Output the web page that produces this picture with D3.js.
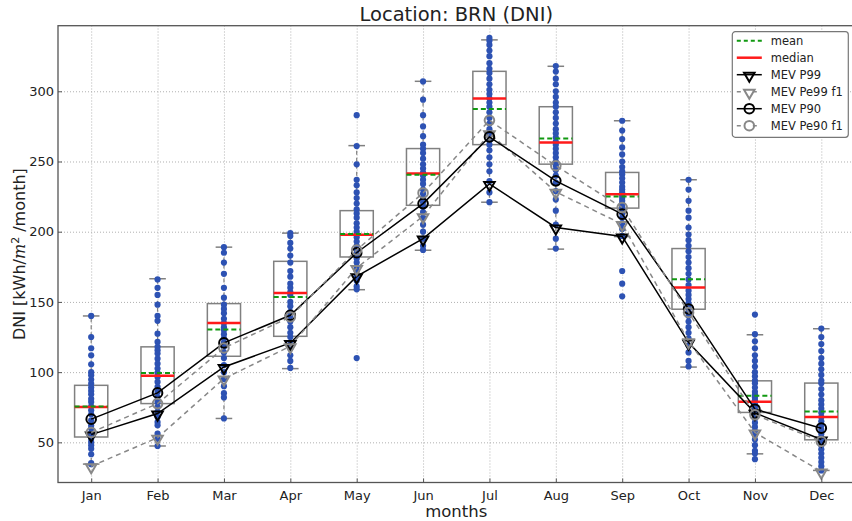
<!DOCTYPE html>
<html lang="en">
<head>
  <meta charset="UTF-8">
  <title>Location: BRN (DNI)</title>
  <script src="https://d3js.org/d3.v7.min.js"></script>
  <style>
    body { margin: 0; background: #fff; }
    svg text { font-family: "DejaVu Sans", sans-serif; fill: #222; }
    .grid line { stroke: #b0b0b0; stroke-dasharray: 1,2; }
    .grid path { display: none; }
  </style>
</head>
<body>
<div id="chart"></div>
<script>
  // months and box statistics
  var months = ["Jan", "Feb", "Mar", "Apr", "May", "Jun", "Jul", "Aug", "Sep", "Oct", "Nov", "Dec"];
  var whiskerLow  = [34.5, 47.4, 67, 102.5, 158.7, 186.8, 221, 187.6, 196.5, 103.6, 41.8, 30];
  var q1          = [53.8, 77.6, 111.3, 125.5, 182, 218.8, 262, 248.1, 216.8, 144.8, 71.3, 51.8];
  var medians     = [75.2, 97.5, 135, 156.4, 197.9, 241.4, 294.8, 263.5, 226.7, 160.3, 78.9, 68];
  var means       = [75.6, 99.4, 130.3, 153.5, 198.4, 240.6, 287.4, 266.4, 225.1, 166.2, 83.1, 72];
  var q3          = [90.6, 118, 148.8, 178.9, 215, 259.2, 314.2, 289, 242.2, 188, 93.8, 92.2];
  var whiskerHigh = [140, 166.5, 189, 199, 261.3, 307.1, 336.6, 317.8, 279, 237, 126.6, 130.9];

  // yearly values (blue dots), one list per month
  var yearlyValues = [
    [140, 125, 117, 112, 105.6, 100, 97.8, 94.7, 91.8, 89, 86.6, 84.2, 81, 78.8, 75.7, 72.8, 70, 65.7, 62, 59.8, 56.7, 55, 52.7, 50.3, 48, 45.5, 41.5, 35.3, 34.4],
    [166, 160, 155, 148, 140, 136.5, 127.4, 121.5, 118, 115.6, 113.2, 109.6, 106, 102.5, 99.4, 96.6, 93, 89.5, 85.9, 82.3, 78.8, 75.2, 71.7, 68.1, 64.5, 62.2, 56.2, 52.7, 47.4],
    [189, 185, 178, 170, 160, 153, 148, 145, 142, 138, 135, 132, 130, 127, 124, 121, 118, 114, 110, 105, 100, 95, 90, 85, 82, 67],
    [199, 197, 192, 188, 183, 178, 172, 168, 163, 160, 157, 155, 150, 147, 143, 140, 136, 132, 128, 125, 120, 117, 112, 108, 103],
    [283, 261, 248, 237, 233, 228, 224, 220, 216, 213, 210, 206, 203, 200, 198, 196, 193, 190, 187, 184, 181, 178, 175, 172, 168, 165, 161, 159, 110],
    [307, 294, 283, 275, 268, 262, 259, 256, 252, 248, 245, 242, 240, 237, 234, 230, 227, 224, 221, 218, 214, 210, 205, 200, 195, 190, 187],
    [338, 336, 333, 329, 325, 320, 316, 313, 309, 305, 301, 298, 295, 292, 289, 285, 281, 277, 273, 269, 265, 262, 258, 253, 248, 243, 236, 228, 221],
    [318, 314, 309, 305, 300, 296, 292, 289, 285, 281, 277, 273, 270, 267, 264, 262, 259, 256, 253, 250, 247, 244, 240, 235, 229, 223, 215, 205, 195, 188],
    [279, 272, 266, 260, 255, 250, 246, 243, 241, 238, 235, 232, 230, 228, 226, 224, 222, 220, 218, 216, 213, 210, 206, 202, 197, 172, 163, 154],
    [237, 230, 222, 215, 210, 203, 198, 194, 190, 186, 182, 178, 174, 170, 166, 162, 158, 155, 152, 149, 146, 143, 140, 136, 132, 128, 124, 119, 114, 108, 104],
    [141, 127, 122, 117, 112, 108, 104, 100, 97, 94, 92, 89, 86, 84, 82, 80, 78, 76, 74, 72, 70, 67, 64, 61, 58, 55, 52, 48, 44, 42, 38],
    [131, 125, 120, 115, 110, 106, 102, 98, 94, 92, 88, 84, 80, 77, 74, 71, 68, 65, 62, 59, 56, 53, 51, 48, 45, 42, 39, 36, 33, 30]
  ];

  // MEV series
  var mevP99  = [55.5, 70.5, 103.7, 120.8, 168.2, 195.1, 234, 203, 196.6, 121, 71, 52];
  var mevPe99 = [33, 53.3, 95.4, 118.4, 174.2, 211, 270, 228.4, 205.4, 122, 57, 29.2];
  var mevP90  = [66.5, 85.2, 120.8, 140.5, 185, 220, 267.5, 236.2, 212.5, 145, 73.6, 60.1];
  var mevPe90 = [57, 77.6, 117.2, 139.3, 187, 227.6, 279.3, 247, 217.2, 142.5, 69.6, 50.6];

  var yTicks = [50, 100, 150, 200, 250, 300];

  var W = 852, H = 521;
  var margin = { top: 25.7, left: 58, right: -2.5, bottom: 38.5 };
  var width = W - margin.left - margin.right,
      height = H - margin.top - margin.bottom;

  var svg = d3.select("#chart").append("svg")
    .attr("width", W)
    .attr("height", H);

  var g = svg.append("g")
    .attr("transform", "translate(" + margin.left + "," + margin.top + ")");

  var x = d3.scaleLinear().domain([0.5, 12.5]).range([0, width]);
  var y = d3.scaleLinear().domain([21.4, 346.7]).range([height, 0]);
  var step = x(2) - x(1);
  var idx = d3.range(1, 13);

  // grid
  g.append("g").attr("class", "grid")
    .call(d3.axisLeft(y).tickValues(yTicks).tickSize(-width).tickFormat(""));
  g.append("g").attr("class", "grid")
    .attr("transform", "translate(0," + height + ")")
    .call(d3.axisBottom(x).tickValues(idx).tickSize(height).tickFormat(""))
    .selectAll("line").attr("y2", -height);

  // whiskers and boxes
  var grey = "#808080";
  idx.forEach(function(m, i) {
    var cx = x(m);
    g.append("line").attr("x1", cx).attr("x2", cx)
      .attr("y1", y(q3[i])).attr("y2", y(whiskerHigh[i]))
      .attr("stroke", grey).attr("stroke-width", 1.2).attr("stroke-dasharray", "4,3");
    g.append("line").attr("x1", cx).attr("x2", cx)
      .attr("y1", y(q1[i])).attr("y2", y(whiskerLow[i]))
      .attr("stroke", grey).attr("stroke-width", 1.2).attr("stroke-dasharray", "4,3");
    [whiskerHigh[i], whiskerLow[i]].forEach(function(v) {
      g.append("line").attr("x1", cx - step * 0.125).attr("x2", cx + step * 0.125)
        .attr("y1", y(v)).attr("y2", y(v))
        .attr("stroke", grey).attr("stroke-width", 1.5);
    });
    g.append("rect")
      .attr("x", cx - step * 0.25).attr("width", step * 0.5)
      .attr("y", y(q3[i])).attr("height", y(q1[i]) - y(q3[i]))
      .attr("fill", "none").attr("stroke", grey).attr("stroke-width", 1.5);
  });

  // yearly dots
  idx.forEach(function(m, i) {
    g.selectAll(".dot" + m)
      .data(yearlyValues[i])
      .enter().append("circle")
      .attr("cx", x(m))
      .attr("cy", function(d) { return y(d); })
      .attr("r", 3.1)
      .attr("fill", "#2d52b3");
  });

  // median and mean
  idx.forEach(function(m, i) {
    var cx = x(m);
    g.append("line").attr("x1", cx - step * 0.25).attr("x2", cx + step * 0.25)
      .attr("y1", y(medians[i])).attr("y2", y(medians[i]))
      .attr("stroke", "#ff1a1a").attr("stroke-width", 2.5);
    g.append("line").attr("x1", cx - step * 0.25).attr("x2", cx + step * 0.25)
      .attr("y1", y(means[i])).attr("y2", y(means[i]))
      .attr("stroke", "#119911").attr("stroke-width", 2).attr("stroke-dasharray", "5,3");
  });

  // MEV lines
  var series = [
    { name: "MEV P99", values: mevP99, color: "#000", dash: null, marker: "tri" },
    { name: "MEV Pe99 f1", values: mevPe99, color: "#888", dash: "5,4", marker: "tri" },
    { name: "MEV P90", values: mevP90, color: "#000", dash: null, marker: "circ" },
    { name: "MEV Pe90 f1", values: mevPe90, color: "#888", dash: "5,4", marker: "circ" }
  ];
  var line = d3.line()
    .x(function(d, i) { return x(i + 1); })
    .y(function(d) { return y(d); });
  var tri = d3.symbol().type(d3.symbolTriangle).size(48);

  function drawMarker(sel, s, px, py) {
    if (s.marker === "tri") {
      sel.append("path").attr("d", tri())
        .attr("transform", "translate(" + px + "," + (py + 1) + ") rotate(180)")
        .attr("fill", "none").attr("stroke", s.color).attr("stroke-width", 2);
    } else {
      sel.append("circle").attr("cx", px).attr("cy", py).attr("r", 4.8)
        .attr("fill", "none").attr("stroke", s.color).attr("stroke-width", 2);
    }
  }

  series.forEach(function(s) {
    g.append("path").datum(s.values)
      .attr("d", line)
      .attr("fill", "none")
      .attr("stroke", s.color)
      .attr("stroke-width", 1.5)
      .attr("stroke-dasharray", s.dash);
    s.values.forEach(function(v, i) { drawMarker(g, s, x(i + 1), y(v)); });
  });

  // axes frame
  g.append("rect").attr("width", width).attr("height", height)
    .attr("fill", "none").attr("stroke", "#555").attr("stroke-width", 1.3);

  var yAxis = g.append("g")
    .call(d3.axisLeft(y).tickValues(yTicks).tickSize(-4).tickPadding(4));
  yAxis.select(".domain").remove();
  yAxis.selectAll("line").attr("stroke", "#555");
  yAxis.selectAll("text").style("font-size", "13px").style("font-family", "DejaVu Sans");

  var xAxis = g.append("g")
    .attr("transform", "translate(0," + height + ")")
    .call(d3.axisBottom(x).tickValues(idx).tickSize(-4).tickPadding(8)
      .tickFormat(function(d) { return months[d - 1]; }));
  xAxis.select(".domain").remove();
  xAxis.selectAll("line").attr("stroke", "#555");
  xAxis.selectAll("text").style("font-size", "13px").style("font-family", "DejaVu Sans");

  // title and labels
  svg.append("text")
    .attr("x", margin.left + x(6.5)).attr("y", 21)
    .attr("text-anchor", "middle")
    .style("font-size", "19.5px")
    .text("Location: BRN (DNI)");

  svg.append("text")
    .attr("x", margin.left + x(6.5)).attr("y", 517)
    .attr("text-anchor", "middle")
    .style("font-size", "16.5px")
    .text("months");

  var yl = svg.append("text")
    .attr("transform", "translate(25," + (margin.top + height / 2) + ") rotate(-90)")
    .attr("text-anchor", "middle")
    .style("font-size", "16px");
  yl.append("tspan").text("DNI [kWh/");
  yl.append("tspan").style("font-family", "DejaVu Serif").style("font-style", "italic").text("m");
  yl.append("tspan").attr("dy", -6).style("font-size", "11px").text("2");
  yl.append("tspan").attr("dy", 6).text(" /month]");

  // legend
  var lg = svg.append("g").attr("transform", "translate(732.3,31.7)");
  lg.append("rect").attr("width", 116).attr("height", 105.6).attr("rx", 3)
    .attr("fill", "#fff").attr("stroke", "#777").attr("stroke-width", 1.2);
  var entries = [
    { name: "mean", color: "#119911", dash: "4,3", width: 2, marker: null },
    { name: "median", color: "#ff1a1a", dash: null, width: 2.5, marker: null }
  ].concat(series.map(function(s) {
    return { name: s.name, color: s.color, dash: s.dash ? "4,12" : null, width: 1.5, marker: s.marker };
  }));
  entries.forEach(function(e, i) {
    var ey = 9 + i * 17;
    var row = lg.append("g");
    row.append("line").attr("x1", 4.5).attr("x2", 29.5).attr("y1", ey).attr("y2", ey)
      .attr("stroke", e.color).attr("stroke-width", e.width)
      .attr("stroke-dasharray", e.dash);
    if (e.marker) drawMarker(row, e, 17, ey);
    row.append("text").attr("x", 38.5).attr("y", ey + 4.2)
      .style("font-size", "11.5px")
      .text(e.name);
  });
</script>
</body>
</html>
